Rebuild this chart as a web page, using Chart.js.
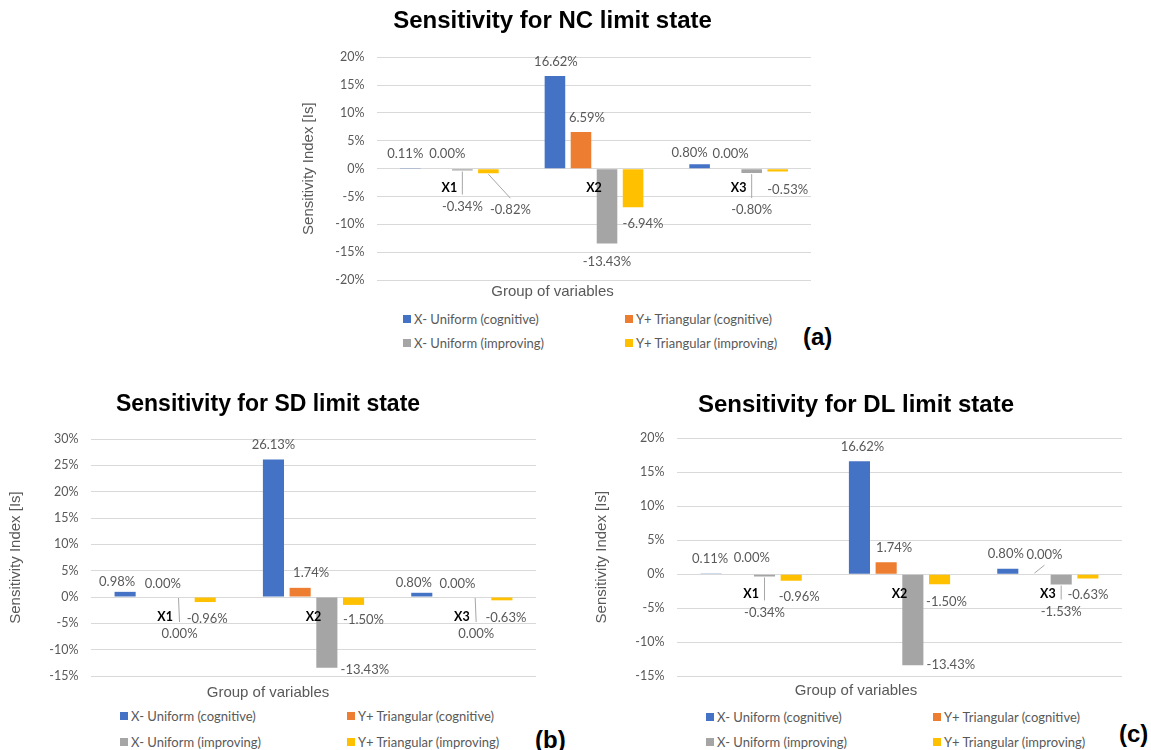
<!DOCTYPE html>
<html>
<head>
<meta charset="utf-8">
<title>Sensitivity charts</title>
<script src="https://cdn.jsdelivr.net/npm/chart.js@4.4.1/dist/chart.umd.min.js"></script>
<style>
    html, body { margin: 0; padding: 0; background: #fff; overflow: hidden; }
    body { width: 1151px; height: 750px; position: relative; }
    canvas { position: absolute; }
    .legend-item {
        position: absolute; display: flex; align-items: center;
        font: 13px Lato, sans-serif; color: #595959; white-space: nowrap; height: 14px;
    }
    .legend-item span { display: inline-block; width: 8px; height: 8px; margin-right: 3px; }
    .panel { position: absolute; font: bold 24px 'Liberation Sans', Arial, sans-serif; color: #000; line-height: 28px; }
</style>
</head>
<body>
<canvas id="chartNC" width="561" height="303" style="left:294px;top:0px"></canvas>
<canvas id="chartSD" width="588" height="319" style="left:0px;top:385px"></canvas>
<canvas id="chartDL" width="596" height="317" style="left:590px;top:385px"></canvas>
<div class="panel" style="left:803px;top:323px">(a)</div>
<div class="panel" style="left:535px;top:726px">(b)</div>
<div class="panel" style="left:1119px;top:720px">(c)</div>
<script>
// Categories and series
const categories = ['X1', 'X2', 'X3'];
const seriesNames = ['X- Uniform (cognitive)', 'Y+ Triangular (cognitive)', 'X- Uniform (improving)', 'Y+ Triangular (improving)'];
const seriesColors = ['#4472C4', '#ED7D31', '#A5A5A5', '#FFC000'];

// NC limit state (%)
const ncUniformCog = [0.11, 16.62, 0.80];
const ncTriangCog = [0.00, 6.59, 0.00];
const ncUniformImp = [-0.34, -13.43, -0.80];
const ncTriangImp = [-0.82, -6.94, -0.53];

// SD limit state (%), -0 = tiny negative shown as 0.00%
const sdUniformCog = [0.98, 26.13, 0.80];
const sdTriangCog = [0.00, 1.74, 0.00];
const sdUniformImp = [-0, -13.43, -0];
const sdTriangImp = [-0.96, -1.50, -0.63];

// DL limit state (%)
const dlUniformCog = [0.11, 16.62, 0.80];
const dlTriangCog = [0.00, 1.74, 0.00];
const dlUniformImp = [-0.34, -13.43, -1.53];
const dlTriangImp = [-0.96, -1.50, -0.63];

// y axis ranges [min, max, step]
const ncRange = [-20, 20, 5];
const sdRange = [-15, 30, 5];
const dlRange = [-15, 20, 5];

// label nudges in px [dx, dy] per series/category (moved by hand in the original)
const ncShift = [[[-5, 0], [1, 0], [-10, 3]], [[11, -1], [6, 0], [5, -1]], [[0, 19], [0, 1], [0, 20]], [[22, 20], [10, 0], [10, 1]]];
const ncLeader = [[0, 0, 0], [0, 0, 0], [1, 0, 1], [1, 0, 0]];
const sdShift = [[[-8, 4], [0, -1], [-8, 4]], [[11, 1], [11, -1], [9, 1]], [[1, 20], [38, -15], [1, 20]], [[2, 0], [10, -2], [4, 0]]];
const sdLeader = [[0, 0, 0], [0, 0, 0], [1, 0, 1], [0, 0, 0]];
const dlShift = [[[-1, -1], [3, 0], [-2, -1]], [[14, -2], [8, 0], [10, -5]], [[0, 19], [38, -18], [0, 10]], [[8, -1], [7, 0], [0, -1]]];
const dlLeader = [[0, 0, 0], [0, 0, 1], [1, 0, 1], [0, 0, 0]];

// Value labels with optional leader lines
const barLabelPlugin = {
    id: 'barValueLabels',
    afterDatasetsDraw(chart) {
        const ctx = chart.ctx;
        ctx.save();
        ctx.font = '13px Lato, sans-serif';
        ctx.fillStyle = '#595959';
        ctx.textAlign = 'center';
        ctx.textBaseline = 'middle';
        chart.data.datasets.forEach((ds, i) => {
            chart.getDatasetMeta(i).data.forEach((bar, j) => {
                const v = ds.data[j];
                const below = v < 0 || Object.is(v, -0);
                const [dx, dy] = ds.labelShift[j];
                const lx = bar.x + dx;
                const ly = (below ? bar.y + 17 : bar.y - 14) + dy;
                if (ds.labelLeader[j]) {
                    ctx.strokeStyle = '#a6a6a6';
                    ctx.lineWidth = 1;
                    ctx.beginPath();
                    if (below) { ctx.moveTo(bar.x, bar.y + 1); ctx.lineTo(lx, ly - 12); }
                    else { ctx.moveTo(bar.x, bar.y - 1); ctx.lineTo(lx, ly + 10); }
                    ctx.stroke();
                }
                ctx.fillText(v.toFixed(2) + '%', lx, ly);
            });
        });
        ctx.restore();
    }
};

function makeChart(cfg) {
    const datasets = cfg.series.map((vals, i) => ({
        label: seriesNames[i],
        data: vals,
        backgroundColor: seriesColors[i],
        categoryPercentage: 0.72,
        barPercentage: 0.79,
        labelShift: cfg.shifts[i],
        labelLeader: cfg.leaders[i]
    }));

    return new Chart(document.getElementById(cfg.id), {
        type: 'bar',
        data: { labels: categories, datasets: datasets },
        options: {
            responsive: false,
            animation: false,
            layout: { padding: { left: 0, right: cfg.padRight, top: 0, bottom: 0 } },
            plugins: {
                legend: { display: false },
                tooltip: { enabled: false },
                title: {
                    display: true,
                    text: cfg.title,
                    color: '#000',
                    font: { family: "'Liberation Sans', Arial, sans-serif", size: cfg.titleSize, weight: 'bold', lineHeight: 1.2 },
                    padding: { top: cfg.titleTop, bottom: cfg.titleBottom }
                },
                subtitle: {
                    display: true,
                    position: 'bottom',
                    text: 'Group of variables',
                    color: '#595959',
                    font: { family: "'Liberation Sans', Arial, sans-serif", size: 15, lineHeight: 1.2 },
                    padding: { top: cfg.subTop, bottom: 2 }
                }
            },
            scales: {
                x: {
                    position: { y: 0 },
                    grid: { display: false, drawTicks: false },
                    border: { display: false },
                    // z > 0 so the category names sit on top of the bars
                    ticks: { z: 1, color: '#000', font: { family: 'Lato, sans-serif', size: 12.5, weight: 'bold' }, padding: 12 }
                },
                y: {
                    min: cfg.range[0],
                    max: cfg.range[1],
                    ticks: {
                        stepSize: cfg.range[2],
                        color: '#595959',
                        font: { family: 'Lato, sans-serif', size: 12.5 },
                        padding: 12.5,
                        callback: v => v + '%'
                    },
                    grid: { color: '#d9d9d9', drawTicks: false },
                    border: { display: false },
                    title: {
                        display: true,
                        text: 'Sensitivity Index [Is]',
                        color: '#595959',
                        font: { family: "'Liberation Sans', Arial, sans-serif", size: 15, lineHeight: 1.2 },
                        padding: { top: cfg.yTitlePad, bottom: 0 }
                    },
                    afterFit: s => { s.width = cfg.yWidth; }
                }
            }
        },
        plugins: [barLabelPlugin]
    });
}

// HTML legend, two columns by two rows
function makeLegend(col1, col2, row1, row2) {
    const spots = [[col1, row1], [col2, row1], [col1, row2], [col2, row2]];
    seriesNames.forEach((name, i) => {
        const item = document.createElement('div');
        item.className = 'legend-item';
        item.style.left = spots[i][0] + 'px';
        item.style.top = (spots[i][1] - 7) + 'px';
        const sw = document.createElement('span');
        sw.style.background = seriesColors[i];
        item.appendChild(sw);
        item.appendChild(document.createTextNode(name));
        document.body.appendChild(item);
    });
}

makeChart({
    id: 'chartNC', title: 'Sensitivity for NC limit state', titleSize: 24, titleTop: 6.6, titleBottom: 21.9,
    subTop: 3, padRight: 44, yWidth: 83, yTitlePad: 6, range: ncRange,
    series: [ncUniformCog, ncTriangCog, ncUniformImp, ncTriangImp], shifts: ncShift, leaders: ncLeader
});
makeChart({
    id: 'chartSD', title: 'Sensitivity for SD limit state', titleSize: 23, titleTop: 6.2, titleBottom: 20.2,
    subTop: 8, padRight: 52, yWidth: 91, yTitlePad: 7, range: sdRange,
    series: [sdUniformCog, sdTriangCog, sdUniformImp, sdTriangImp], shifts: sdShift, leaders: sdLeader
});
makeChart({
    id: 'chartDL', title: 'Sensitivity for DL limit state', titleSize: 24, titleTop: 5.6, titleBottom: 18.9,
    subTop: 6, padRight: 64, yWidth: 87, yTitlePad: 2.7, range: dlRange,
    series: [dlUniformCog, dlTriangCog, dlUniformImp, dlTriangImp], shifts: dlShift, leaders: dlLeader
});

makeLegend(403, 625, 319, 343);
makeLegend(120, 347, 716, 742);
makeLegend(706, 933, 717, 742);
</script>
</body>
</html>
